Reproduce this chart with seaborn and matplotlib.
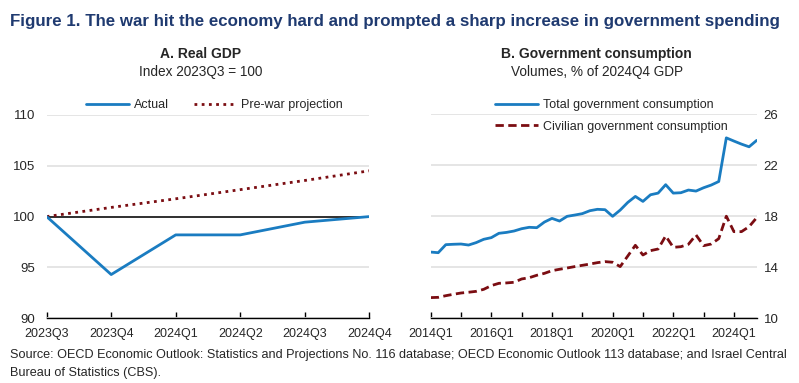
import numpy as np
import pandas as pd
import seaborn as sns
import matplotlib.pyplot as plt

sns.set_theme(style="white")
plt.rcParams['font.family'] = ['Liberation Sans', 'DejaVu Sans']

BLUE = '#1a7cc1'
RED = '#7b0d12'
NAVY = '#1f3a70'

# Panel A: real GDP, index 2023Q3 = 100
gdp_quarters = ['2023Q3', '2023Q4', '2024Q1', '2024Q2', '2024Q3', '2024Q4']
gdp_actual = [100.0, 94.3, 98.2, 98.2, 99.45, 100.0]
gdp_prewar = [100.0, 100.9, 101.75, 102.65, 103.55, 104.5]

# Panel B: government consumption, volumes, % of 2024Q4 GDP (2014Q1 - 2024Q4)
gov_quarters = [f'{y}Q{q}' for y in range(2014, 2025) for q in range(1, 5)]
gov_total = [15.19, 15.14, 15.77, 15.80, 15.82, 15.74, 15.93, 16.19,
             16.32, 16.66, 16.73, 16.84, 17.02, 17.13, 17.10, 17.54,
             17.83, 17.62, 17.99, 18.09, 18.20, 18.43, 18.54, 18.51,
             17.99, 18.48, 19.08, 19.55, 19.16, 19.68, 19.81, 20.47,
             19.81, 19.84, 20.05, 19.97, 20.23, 20.44, 20.72, 24.14,
             23.89, 23.65, 23.44, 23.94]
gov_civilian = [11.62, 11.64, 11.77, 11.88, 11.98, 12.04, 12.11, 12.27,
                12.56, 12.74, 12.77, 12.82, 13.08, 13.18, 13.37, 13.52,
                13.73, 13.84, 13.94, 14.05, 14.15, 14.25, 14.36, 14.44,
                14.39, 14.05, 14.88, 15.72, 14.96, 15.30, 15.43, 16.45,
                15.56, 15.61, 15.80, 16.53, 15.69, 15.82, 16.24, 18.00,
                16.79, 16.79, 17.18, 17.88]

df_a = pd.DataFrame({'q': range(len(gdp_quarters)),
                     'Actual': gdp_actual,
                     'Pre-war projection': gdp_prewar})
df_b = pd.DataFrame({'q': range(len(gov_quarters)),
                     'Total government consumption': gov_total,
                     'Civilian government consumption': gov_civilian})

fig = plt.figure(figsize=(7.99, 3.83), dpi=100)
ax1 = fig.add_axes([0.0584, 0.169, 0.4038, 0.531])
ax2 = fig.add_axes([0.539, 0.169, 0.408, 0.533])

# ---- panel A
ax1.axhline(100, color='#222222', lw=1.3, zorder=1)
sns.lineplot(data=df_a, x='q', y='Actual', ax=ax1, color=BLUE, lw=2,
             label='Actual', zorder=3)
sns.lineplot(data=df_a, x='q', y='Pre-war projection', ax=ax1, color=RED,
             lw=2, linestyle=(0, (1, 1.6)), label='Pre-war projection', zorder=2)
ax1.set_xlim(0, len(gdp_quarters) - 1)
ax1.set_ylim(90, 110)
ax1.set_yticks([90, 95, 100, 105, 110])
ax1.set_xticks(range(len(gdp_quarters)))
ax1.set_xticklabels(gdp_quarters)
ax1.legend(loc='lower center', bbox_to_anchor=(0.52, 0.98), ncol=2, frameon=False,
           fontsize=9, handlelength=3.4, handletextpad=0.4, columnspacing=2.0,
           borderaxespad=0.2)

# ---- panel B
sns.lineplot(data=df_b, x='q', y='Total government consumption', ax=ax2,
             color=BLUE, lw=2, label='Total government consumption')
sns.lineplot(data=df_b, x='q', y='Civilian government consumption', ax=ax2,
             color=RED, lw=2, linestyle=(0, (3, 1.6)),
             label='Civilian government consumption')
ax2.set_xlim(0, len(gov_quarters) - 1)
ax2.set_ylim(10, 26)
ax2.set_yticks([10, 14, 18, 22, 26])
ax2.yaxis.tick_right()
ax2.set_xticks(range(0, len(gov_quarters), 4))
ax2.set_xticklabels([gov_quarters[i] if i % 8 == 0 else '' for i in range(0, len(gov_quarters), 4)])
ax2.legend(loc='upper left', bbox_to_anchor=(0.175, 1.11), ncol=1, frameon=False,
           fontsize=9, handlelength=3.4, handletextpad=0.4, labelspacing=0.75,
           borderaxespad=0.2)

for ax in (ax1, ax2):
    ax.set_xlabel('')
    ax.set_ylabel('')
    ax.grid(axis='y', color='#e3e3e3', lw=1.3)
    ax.grid(axis='x', visible=False)
    for s in ('top', 'left', 'right'):
        ax.spines[s].set_visible(False)
    ax.spines['bottom'].set_color('black')
    ax.spines['bottom'].set_linewidth(1)
    ax.tick_params(axis='x', direction='in', length=4, width=1, color='black',
                   labelsize=9, pad=7, bottom=True)
    ax.tick_params(axis='y', length=0, labelsize=9.5, pad=5)
    ax.set_axisbelow(True)
ax1.tick_params(axis='y', pad=8)


def fit_text(x, y, s, width_px, size, **kw):
    t = fig.text(x, y, s, fontsize=size, **kw)
    r = fig.canvas.get_renderer()
    w = t.get_window_extent(r).width
    if w > width_px:
        t.set_fontsize(size * width_px / w)
    return t


fit_text(0.012, 0.945, 'Figure 1. The war hit the economy hard and prompted a sharp increase in government spending',
         772, 14.5, fontweight='bold', color=NAVY, va='center')
fig.text(0.2515, 0.858, 'A. Real GDP', fontsize=10, fontweight='bold', ha='center', va='center')
fig.text(0.2515, 0.812, 'Index 2023Q3 = 100', fontsize=9.8, ha='center', va='center')
fig.text(0.747, 0.858, 'B. Government consumption', fontsize=10, fontweight='bold', ha='center', va='center')
fig.text(0.747, 0.812, 'Volumes, % of 2024Q4 GDP', fontsize=9.8, ha='center', va='center')
src = fit_text(0.012, 0.073, 'Source: OECD Economic Outlook: Statistics and Projections No. 116 database; '
               'OECD Economic Outlook 113 database; and Israel Central', 778, 10.5, va='center')
fig.text(0.012, 0.025, 'Bureau of Statistics (CBS).', fontsize=src.get_fontsize(), va='center')

fig.savefig('out.png', dpi=100)
